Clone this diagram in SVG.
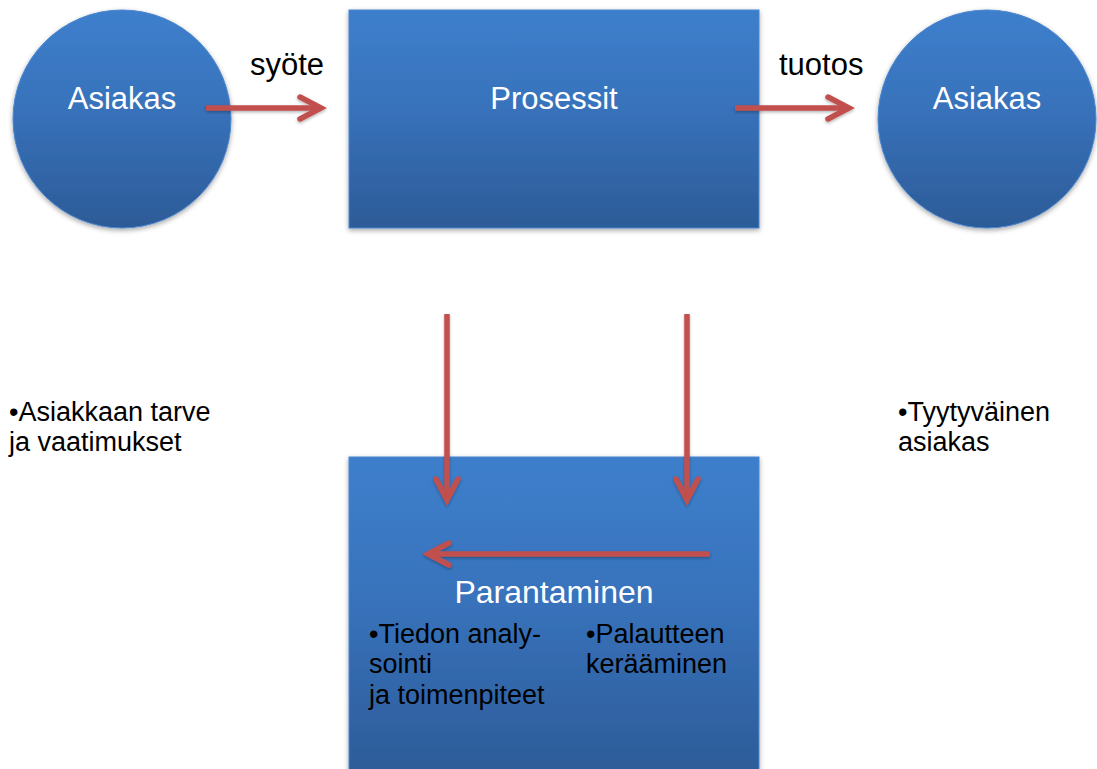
<svg xmlns="http://www.w3.org/2000/svg" width="1097" height="769" viewBox="0 0 1097 769">
  <defs>
    <linearGradient id="gBlue" x1="0" y1="0" x2="0" y2="1">
      <stop offset="0" stop-color="#3d7fcc"/>
      <stop offset="0.45" stop-color="#3872bb"/>
      <stop offset="1" stop-color="#2c5b97"/>
    </linearGradient>
    <linearGradient id="gBottom" gradientUnits="userSpaceOnUse" x1="0" y1="457" x2="0" y2="780">
      <stop offset="0" stop-color="#3d7fcc"/>
      <stop offset="0.45" stop-color="#3872bb"/>
      <stop offset="1" stop-color="#2c5b97"/>
    </linearGradient>
    <filter id="shadow" x="-10%" y="-10%" width="120%" height="125%">
      <feDropShadow dx="0" dy="2" stdDeviation="2.5" flood-color="#000" flood-opacity="0.35"/>
    </filter>
    <filter id="ashadow" x="-10%" y="-30%" width="120%" height="160%">
      <feDropShadow dx="0" dy="1.5" stdDeviation="1.5" flood-color="#000" flood-opacity="0.3"/>
    </filter>
    <marker id="chev" markerUnits="userSpaceOnUse" viewBox="-28 -16 34 32" refX="0" refY="0" markerWidth="34" markerHeight="32" orient="auto">
      <path d="M-21,-11 L0,0 L-21,11" fill="none" stroke="#c0504d" stroke-width="5.5" stroke-linecap="round" stroke-linejoin="miter"/>
    </marker>
  </defs>
  <style>
    .node { fill: url(#gBlue); stroke: #4a86cf; stroke-width: 1; filter: url(#shadow); }
    .wt { font-family: "Liberation Sans", Arial, sans-serif; fill: #ffffff; font-size: 31px; text-anchor: middle; }
    .bt { font-family: "Liberation Sans", Arial, sans-serif; fill: #000000; font-size: 31px; }
    .st { font-family: "Liberation Sans", Arial, sans-serif; fill: #000000; font-size: 27px; }
    .conn { stroke: #c0504d; stroke-width: 5.5; fill: none; marker-end: url(#chev); }
  </style>
  <rect width="1097" height="769" fill="#ffffff"/>

  <g id="asiakas-left">
    <circle class="node" cx="122" cy="119" r="109"/>
    <text class="wt" x="122" y="109">Asiakas</text>
  </g>

  <g id="prosessit">
    <rect class="node" x="349" y="10" width="410" height="218"/>
    <text class="wt" x="554" y="109">Prosessit</text>
  </g>

  <g id="asiakas-right">
    <circle class="node" cx="987" cy="119" r="109"/>
    <text class="wt" x="987" y="109">Asiakas</text>
  </g>

  <g id="parantaminen">
    <rect class="node" x="349" y="457" width="410" height="330" style="fill:url(#gBottom)"/>
    <text class="wt" x="554" y="603" style="font-size:32px">Parantaminen</text>
    <text class="st" x="369" y="643">•Tiedon analy-</text>
    <text class="st" x="369" y="673">sointi</text>
    <text class="st" x="369" y="704">ja toimenpiteet</text>
    <text class="st" x="586" y="643">•Palautteen</text>
    <text class="st" x="586" y="673">kerääminen</text>
  </g>

  <g id="labels">
    <text class="bt" x="250" y="75">syöte</text>
    <text class="bt" x="779" y="75">tuotos</text>
    <text class="st" x="9" y="421">•Asiakkaan tarve</text>
    <text class="st" x="9" y="451">ja vaatimukset</text>
    <text class="st" x="898" y="421">•Tyytyväinen</text>
    <text class="st" x="898" y="451">asiakas</text>
  </g>

  <g id="connectors" filter="url(#ashadow)">
    <line class="conn" x1="206" y1="108" x2="321" y2="108"/>
    <line class="conn" x1="735" y1="108" x2="849" y2="108"/>
    <line class="conn" x1="447" y1="314" x2="447" y2="500"/>
    <line class="conn" x1="687" y1="314" x2="687" y2="500"/>
    <line class="conn" x1="710" y1="554" x2="428" y2="554"/>
  </g>
</svg>
